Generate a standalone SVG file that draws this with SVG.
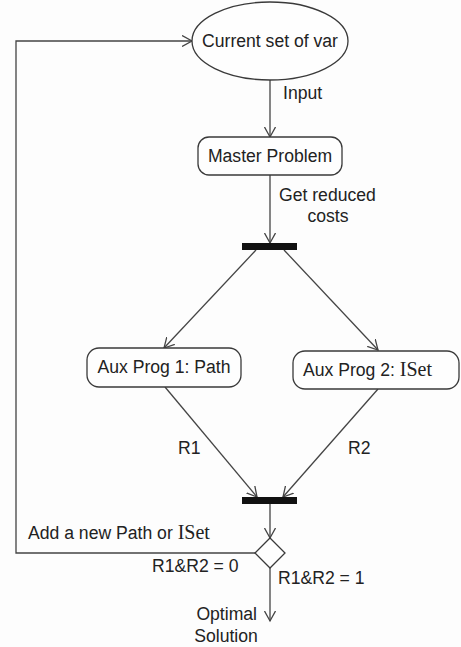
<svg xmlns="http://www.w3.org/2000/svg" width="461" height="647" viewBox="0 0 461 647">
<defs>
<style>
.node{fill:#fefefe;stroke:#3a3a3a;stroke-width:1.3}
.bar{fill:#111;stroke:none}
.edge{fill:none;stroke:#444;stroke-width:1.3}
text{font-family:"Liberation Sans",Arial,sans-serif;font-size:17.6px;fill:#222}
.t{font-family:"Liberation Serif","Times New Roman",serif;font-size:20px}
</style>
<marker id="arr" markerWidth="12" markerHeight="12" refX="10" refY="6" orient="auto" markerUnits="userSpaceOnUse">
<path d="M0,0.5 L10,6 L0,11.5" fill="none" stroke="#444" stroke-width="1.3"/>
</marker>
</defs>
<rect width="461" height="647" fill="#fdfdfd"/>
<g id="connectors">
<path class="edge" d="M270,80 L270,137" marker-end="url(#arr)"/>
<path class="edge" d="M270,175 L270,243" marker-end="url(#arr)"/>
<path class="edge" d="M256,250 L164,348" marker-end="url(#arr)"/>
<path class="edge" d="M284,250 L378,350" marker-end="url(#arr)"/>
<path class="edge" d="M165,387 L257,497" marker-end="url(#arr)"/>
<path class="edge" d="M378,389 L283,497" marker-end="url(#arr)"/>
<path class="edge" d="M270,504 L270,538" marker-end="url(#arr)"/>
<path class="edge" d="M255,553 L16,553 L16,41 L192,41" marker-end="url(#arr)"/>
<path class="edge" d="M270,567 L270,621" marker-end="url(#arr)"/>
<text x="283" y="99">Input</text>
<text x="279" y="201">Get reduced</text>
<text x="328" y="222" text-anchor="middle">costs</text>
<text x="178" y="454">R1</text>
<text x="348" y="454">R2</text>
<text x="28" y="539">Add a new Path or <tspan class="t">ISet</tspan></text>
<text x="152" y="572">R1&amp;R2 = 0</text>
<text x="278" y="584">R1&amp;R2 = 1</text>
<text x="257" y="620" text-anchor="end">Optimal</text>
<text x="226" y="642" text-anchor="middle">Solution</text>
</g>
<g id="current">
<ellipse class="node" cx="270" cy="41" rx="78" ry="39"/>
<text x="270" y="47" text-anchor="middle">Current set of var</text>
</g>
<g id="master">
<rect class="node" x="198" y="137" width="144" height="38" rx="11"/>
<text x="270" y="162" text-anchor="middle">Master Problem</text>
</g>
<g id="fork">
<rect class="bar" x="242" y="243" width="55" height="7"/>
</g>
<g id="aux1">
<rect class="node" x="87" y="348" width="154" height="39" rx="12"/>
<text x="164" y="373" text-anchor="middle">Aux Prog 1: Path</text>
</g>
<g id="aux2">
<rect class="node" x="293" y="351" width="166" height="38" rx="12"/>
<text x="303" y="376">Aux Prog 2: <tspan class="t">ISet</tspan></text>
</g>
<g id="join">
<rect class="bar" x="242" y="497" width="55" height="7"/>
</g>
<g id="decision">
<path class="node" d="M270,538 L285,553 L270,568 L255,553 Z"/>
</g>
</svg>
